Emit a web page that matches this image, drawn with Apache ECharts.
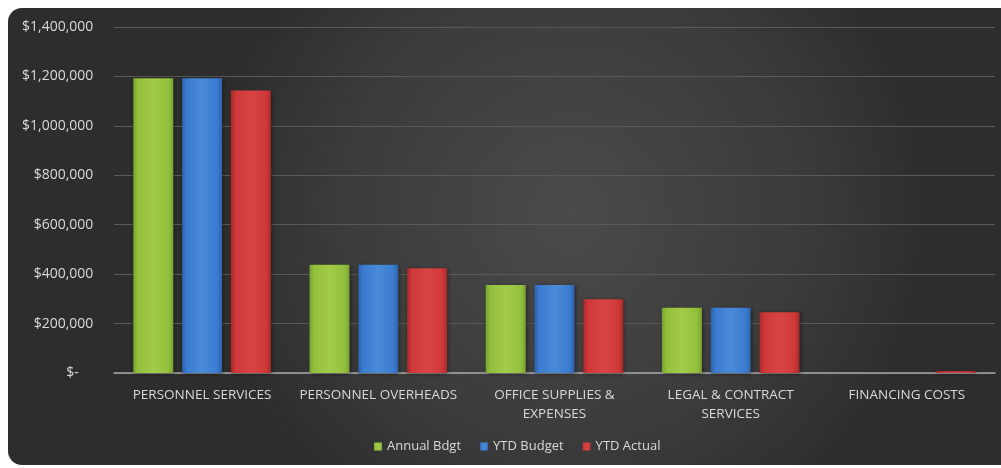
<!DOCTYPE html>
<html><head><meta charset="utf-8">
<script src="https://cdn.jsdelivr.net/npm/echarts@6/dist/echarts.min.js"></script>
<style>html,body{margin:0;padding:0;background:#fff;}#c{width:1001px;height:468px;}</style>
</head><body><div id="c"></div>
<script>
const categories = ['PERSONNEL SERVICES','PERSONNEL OVERHEADS','OFFICE SUPPLIES &\nEXPENSES','LEGAL & CONTRACT\nSERVICES','FINANCING COSTS'];
const annualBdgt = [1193000, 438000, 356000, 264000, 0];
const ytdBudget = [1193000, 438000, 356000, 264000, 0];
const ytdActual = [1143000, 424000, 298000, 246000, 7000];
const seriesNames = ['Annual Bdgt','YTD Budget','YTD Actual'];

function grad(dark, mid, light){
  return new echarts.graphic.LinearGradient(0,0,1,0,[
    {offset:0,color:dark},{offset:0.12,color:mid},{offset:0.5,color:light},{offset:0.88,color:mid},{offset:1,color:dark}]);
}
const colors = [
  grad('#7aa232','#92c03c','#a3cc48'),
  grad('#2d62a8','#3a7bd0','#4a8ad8'),
  grad('#a82a2a','#cf3838','#d84444')
];

const chart = echarts.init(document.getElementById('c'));
function fmt(v){ if(v===0) return '$-     '; return '$' + v.toLocaleString('en-US') + ' '; }
chart.setOption({
  backgroundColor: '#ffffff',
  animation: false,
  graphic: [{
    type:'rect', z:-10, silent:true,
    shape:{x:8,y:8,width:1020,height:457,r:14},
    style:{fill:new echarts.graphic.RadialGradient(0.55,0.45,0.8,[{offset:0,color:'#4a4a4a'},{offset:0.6,color:'#3c3c3c'},{offset:1,color:'#2d2d2d'}])}
  }],
  textStyle:{fontFamily:'Open Sans'},
  legend: {
    data: seriesNames, bottom: 10, left:369, itemWidth:8, itemHeight:8, itemGap:19,
    icon:'rect',
    textStyle:{color:'#d9d9d9', fontSize:13, fontFamily:'Open Sans'}
  },
  grid: {left:114, right:6, top:27, bottom:95},
  xAxis: {
    type:'category', data: categories,
    axisLine:{lineStyle:{color:'#a6a6a6', width:1.5}},
    axisTick:{show:false},
    axisLabel:{color:'#d9d9d9', fontSize:13.5, margin:13, lineHeight:19, interval:0, fontFamily:'Open Sans'}
  },
  yAxis: {
    type:'value', min:0, max:1400000, interval:200000,
    axisLine:{show:false}, axisTick:{show:false},
    splitLine:{lineStyle:{color:'#595959', width:1}},
    axisLabel:{color:'#d9d9d9', fontSize:14, margin:17, formatter: fmt, fontFamily:'Open Sans'}
  },
  series: [annualBdgt, ytdBudget, ytdActual].map((d,i)=>({
    name: seriesNames[i], type:'bar', data:d,
    barWidth: 40, barGap:'22%', barCategoryGap:'21%',
    itemStyle:{color: colors[i], borderWidth:0, shadowColor:'rgba(0,0,0,0.45)', shadowBlur:4, shadowOffsetX:1, shadowOffsetY:1}
  }))
});
</script>
</body></html>
